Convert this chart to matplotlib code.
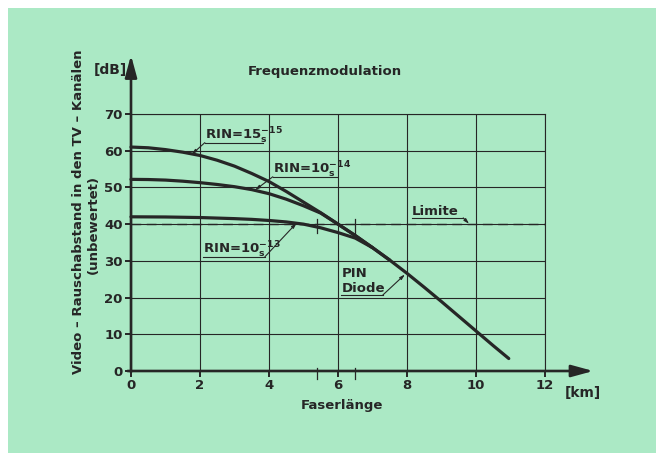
import matplotlib
matplotlib.use('Agg')
import matplotlib.pyplot as plt
from matplotlib.patches import Rectangle

# Faserlänge in km, Video-Rauschabstand in dB
dist_15 = [0, 0.5, 1, 1.5, 2, 2.5, 3, 3.5, 4, 4.5, 5, 5.5, 6, 6.5, 7, 7.5, 8, 8.5, 9, 9.5, 10, 10.5, 10.95]
snr_15 = [61.0, 60.8, 60.3, 59.6, 58.7, 57.4, 55.8, 53.8, 51.6, 48.9, 46.0, 43.1, 40.0, 36.9, 33.6, 30.2, 26.6, 22.8, 18.9, 14.9, 10.9, 6.9, 3.4]

dist_14 = [0, 0.5, 1, 1.5, 2, 2.5, 3, 3.5, 4, 4.5, 5, 5.5, 6, 6.5, 7]
snr_14 = [52.2, 52.15, 52.0, 51.7, 51.3, 50.8, 50.2, 49.4, 48.3, 46.8, 45.0, 43.0, 40.0, 36.9, 33.6]

dist_13 = [0, 1, 2, 3, 3.5, 4, 4.5, 5, 5.5, 6, 6.5, 7, 7.5]
snr_13 = [42.0, 41.95, 41.8, 41.5, 41.3, 41.0, 40.6, 40.0, 39.0, 37.7, 36.2, 33.6, 30.2]

limit_db = 40
limit_marks = [5.4, 6.5]

x_ticks = [0, 2, 4, 6, 8, 10, 12]
y_ticks = [0, 10, 20, 30, 40, 50, 60, 70]

ink = '#262626'
green = '#abe9c5'

plt.rcParams['font.family'] = 'DejaVu Sans'
plt.rcParams['font.weight'] = 'bold'
plt.rcParams['mathtext.default'] = 'bf'

W, H = 656, 453
fig = plt.figure(figsize=(W / 100, H / 100), dpi=100)
fig.patch.set_facecolor('white')
fig.patches.append(Rectangle((8 / W, 0), 1, 1 - 8 / H, transform=fig.transFigure,
                             facecolor=green, edgecolor='none', zorder=-10))

ax = fig.add_axes([131 / W, 1 - 371 / H, 414 / W, 257 / H])
ax.set_facecolor('none')
ax.set_xlim(0, 12)
ax.set_ylim(0, 70)
ax.set_xticks(x_ticks)
ax.set_yticks(y_ticks)
ax.grid(True, color=ink, lw=0.8)
for s in ['top', 'right']:
    ax.spines[s].set_linewidth(0.8)
    ax.spines[s].set_color(ink)
for s in ['left', 'bottom']:
    ax.spines[s].set_visible(False)
ax.tick_params(direction='out', length=4, width=1.4, colors=ink, labelsize=9.5, pad=2)

# axes with arrows
arr = dict(arrowstyle='-|>,head_length=1.1,head_width=0.3', lw=1.9, color=ink,
           shrinkA=0, shrinkB=0, mutation_scale=12)
ax.annotate('', xy=(0, 86), xytext=(0, -0.3), arrowprops=arr, annotation_clip=False)
ax.annotate('', xy=(13.4, 0), xytext=(-0.1, 0), arrowprops=arr, annotation_clip=False)

# Limite
ax.plot([0, 12], [limit_db, limit_db], color=ink, lw=1.0, dashes=(7, 4))
for m in limit_marks:
    ax.plot([m, m], [limit_db - 2.4, limit_db + 1.4], color=ink, lw=0.9)
    ax.plot([m, m], [-2.3, 0.8], color=ink, lw=0.9, clip_on=False)

# curves
for d, v in [(dist_13, snr_13), (dist_14, snr_14), (dist_15, snr_15)]:
    ax.plot(d, v, color=ink, lw=2.3, solid_capstyle='round', solid_joinstyle='round',
            clip_on=False)


def label(txt, x0, x1, yl, tip, fs=9.5):
    ax.text(x0, yl + 0.7, txt, fontsize=fs, color=ink,
            ha='left', va='baseline', fontweight='bold')
    ax.plot([x0, x1], [yl, yl], color=ink, lw=0.8)
    ax.annotate('', xy=tip[1], xytext=tip[0],
                arrowprops=dict(arrowstyle='-|>,head_length=0.5,head_width=0.15', lw=0.8,
                                color=ink, shrinkA=0, shrinkB=0, mutation_scale=6))


label(r'RIN=15$^{-15}_{\mathrm{s}}$', 2.14, 3.83, 62.2, ((2.14, 62.2), (1.76, 59.0)))
label(r'RIN=10$^{-14}_{\mathrm{s}}$', 4.11, 5.96, 52.9, ((4.11, 52.9), (3.6, 49.3)))
label(r'RIN=10$^{-13}_{\mathrm{s}}$', 2.09, 3.88, 31.1, ((3.88, 31.1), (4.8, 40.3)))
label('Limite', 8.14, 9.63, 41.7, ((9.63, 41.7), (9.8, 40.1)))
label('PIN\nDiode', 6.1, 7.3, 20.7, ((7.3, 20.7), (7.94, 26.3)))

fig.text(325 / W, 1 - 71 / H, 'Frequenzmodulation', fontsize=9.5, color=ink,
         ha='center', va='center', fontweight='bold')
fig.text(110 / W, 1 - 70 / H, '[dB]', fontsize=10, color=ink, ha='center', va='center')
fig.text(583 / W, 1 - 393 / H, '[km]', fontsize=10, color=ink, ha='center', va='center')
fig.text(341.7 / W, 1 - 406 / H, 'Faserlänge', fontsize=9.5, color=ink, ha='center', va='center')
fig.text(79 / W, 1 - 212 / H, 'Video – Rauschabstand in den TV – Kanälen', fontsize=9.5,
         color=ink, ha='center', va='center', rotation=90)
fig.text(93 / W, 1 - 225 / H, '(unbewertet)', fontsize=9.5, color=ink,
         ha='center', va='center', rotation=90)

fig.savefig('out.png', dpi=100)
